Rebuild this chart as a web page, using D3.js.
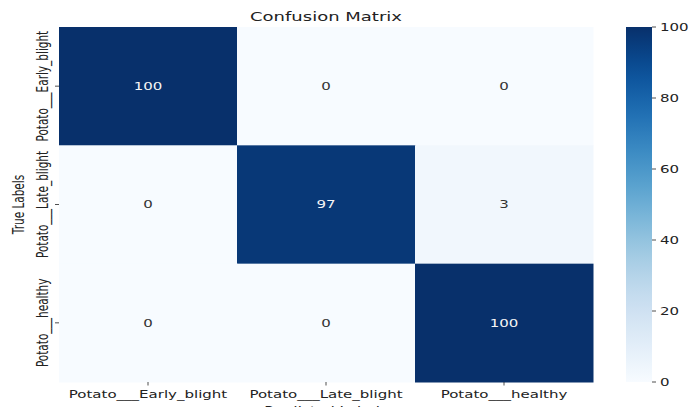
<!DOCTYPE html>
<html>
<head>
<meta charset="utf-8">
<script src="https://cdn.jsdelivr.net/npm/d3@7"></script>
<style>
  html, body { margin: 0; padding: 0; background: #fff; }
  svg { display: block; }
</style>
</head>
<body>
<div id="chart"></div>
<script>
  // confusion matrix values, rows = true, cols = predicted
  const classes = ['Potato___Early_blight', 'Potato___Late_blight', 'Potato___healthy'];
  const rowEarly = [100, 0, 0];
  const rowLate = [0, 97, 3];
  const rowHealthy = [0, 0, 100];
  const cbarTicks = [0, 20, 40, 60, 80, 100];
  const titleText = 'Confusion Matrix';
  const xLabelText = 'Predicted Labels';
  const yLabelText = 'True Labels';

  const width = 689
      , height = 407
      , plotLeft = 59
      , plotRight = 593
      , plotTop = 27
      , plotBottom = 382
      , cbX = 626
      , cbW = 26
      , sx = 1.43            // source picture is stretched sideways
      , font = 'DejaVu Sans, sans-serif'
      , textColor = '#222'
      ;

  const rows = [rowEarly, rowLate, rowHealthy];
  const cells = [];
  rows.forEach((r, i) => r.forEach((v, j) => cells.push({ row: classes[i], col: classes[j], value: v })));

  const x = d3.scaleBand().domain(classes).range([plotLeft, plotRight]);
  const y = d3.scaleBand().domain(classes).range([plotTop, plotBottom]);
  const color = d3.scaleSequential(d3.interpolateBlues).domain([0, 100]);
  const cbScale = d3.scaleLinear().domain([0, 100]).range([plotBottom, plotTop]);

  const svg = d3.select('#chart').append('svg')
    .attr('width', width)
    .attr('height', height)
    .style('font-family', font);

  function stretched(sel, px, py, rot) {
    return sel.attr('transform', `translate(${px},${py}) scale(${sx},1)` + (rot ? ` rotate(${rot})` : ''));
  }

  // cells
  svg.append('g')
    .selectAll('rect')
    .data(cells)
    .join('rect')
      .attr('x', d => x(d.col))
      .attr('y', d => y(d.row))
      .attr('width', x.bandwidth() + 0.5)
      .attr('height', y.bandwidth() + 0.5)
      .attr('fill', d => color(d.value));

  // annotations
  svg.append('g')
    .attr('text-anchor', 'middle')
    .style('font-size', '10.5px')
    .selectAll('text')
    .data(cells)
    .join('text')
      .attr('dy', '0.35em')
      .attr('fill', d => d.value > 50 ? '#f5f5f5' : '#333')
      .text(d => d.value)
      .each(function(d) {
        stretched(d3.select(this), x(d.col) + x.bandwidth() / 2, y(d.row) + y.bandwidth() / 2);
      });

  // x ticks
  const xt = svg.append('g');
  xt.selectAll('line')
    .data(classes)
    .join('line')
      .attr('x1', d => x(d) + x.bandwidth() / 2)
      .attr('x2', d => x(d) + x.bandwidth() / 2)
      .attr('y1', plotBottom)
      .attr('y2', plotBottom + 3.5)
      .attr('stroke', textColor)
      .attr('stroke-width', 0.8);
  xt.selectAll('text')
    .data(classes)
    .join('text')
      .attr('text-anchor', 'middle')
      .attr('fill', textColor)
      .style('font-size', '10.5px')
      .text(d => d)
      .each(function(d) {
        stretched(d3.select(this), x(d) + x.bandwidth() / 2, 398);
      });

  // y ticks
  const yt = svg.append('g');
  yt.selectAll('line')
    .data(classes)
    .join('line')
      .attr('x1', plotLeft - 4)
      .attr('x2', plotLeft)
      .attr('y1', d => y(d) + y.bandwidth() / 2)
      .attr('y2', d => y(d) + y.bandwidth() / 2)
      .attr('stroke', textColor)
      .attr('stroke-width', 0.8);
  yt.selectAll('text')
    .data(classes)
    .join('text')
      .attr('text-anchor', 'middle')
      .attr('fill', textColor)
      .style('font-size', '10.5px')
      .text(d => d)
      .each(function(d) {
        stretched(d3.select(this), 48, y(d) + y.bandwidth() / 2, -90);
      });

  // axis labels + title
  stretched(svg.append('text'), (plotLeft + plotRight) / 2, 414)
    .attr('text-anchor', 'middle')
    .attr('fill', textColor)
    .style('font-size', '10.5px')
    .text(xLabelText);

  stretched(svg.append('text'), 24, (plotTop + plotBottom) / 2, -90)
    .attr('text-anchor', 'middle')
    .attr('fill', textColor)
    .style('font-size', '10.5px')
    .text(yLabelText);

  stretched(svg.append('text'), (plotLeft + plotRight) / 2, 21)
    .attr('text-anchor', 'middle')
    .attr('fill', textColor)
    .style('font-size', '12.6px')
    .text(titleText);

  // colorbar
  const grad = svg.append('defs').append('linearGradient')
    .attr('id', 'cbar')
    .attr('x1', 0).attr('y1', 1).attr('x2', 0).attr('y2', 0);
  d3.range(0, 1.0001, 0.05).forEach(t => {
    grad.append('stop')
      .attr('offset', t)
      .attr('stop-color', color(t * 100));
  });
  svg.append('rect')
    .attr('x', cbX)
    .attr('y', plotTop)
    .attr('width', cbW)
    .attr('height', plotBottom - plotTop)
    .attr('fill', 'url(#cbar)');

  const cb = svg.append('g');
  cb.selectAll('line')
    .data(cbarTicks)
    .join('line')
      .attr('x1', cbX + cbW)
      .attr('x2', cbX + cbW + 4)
      .attr('y1', d => cbScale(d))
      .attr('y2', d => cbScale(d))
      .attr('stroke', textColor)
      .attr('stroke-width', 0.8);
  cb.selectAll('text')
    .data(cbarTicks)
    .join('text')
      .attr('dy', '0.35em')
      .attr('fill', textColor)
      .style('font-size', '10.5px')
      .text(d => d)
      .each(function(d) {
        stretched(d3.select(this), cbX + cbW + 8, cbScale(d));
      });
</script>
</body>
</html>
